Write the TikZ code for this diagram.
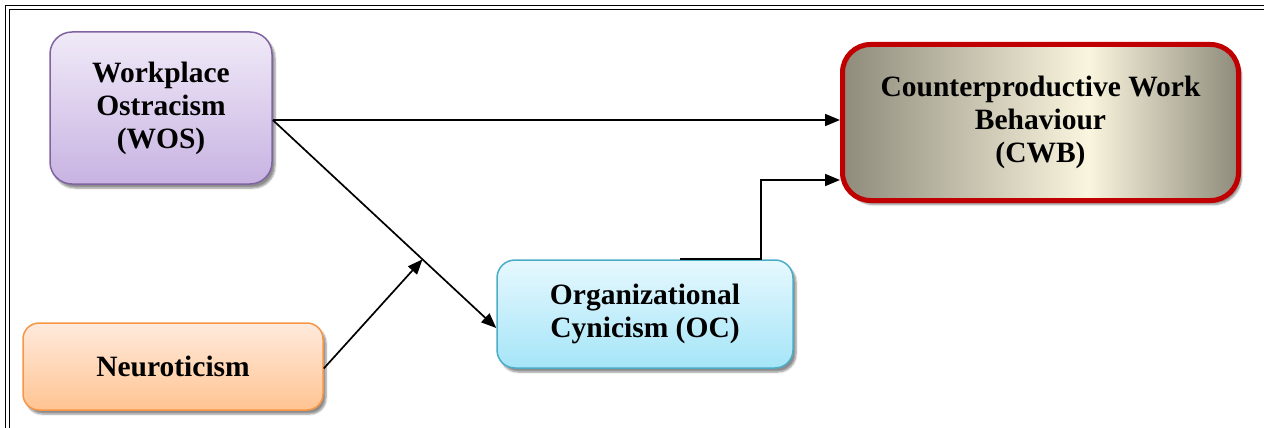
\documentclass[tikz,border=0pt]{standalone}
\usepackage{fontspec}
\setmainfont{Liberation Serif}
\usetikzlibrary{arrows.meta,calc,shadows.blur}
\definecolor{wosTop}{HTML}{F0EAF8}
\definecolor{wosBot}{HTML}{C8B3E2}
\definecolor{wosLine}{HTML}{8064A2}
\definecolor{neuTop}{HTML}{FFEADC}
\definecolor{neuBot}{HTML}{FFC492}
\definecolor{neuLine}{HTML}{F79646}
\definecolor{ocTop}{HTML}{E6F8FE}
\definecolor{ocBot}{HTML}{A5E5F8}
\definecolor{ocLine}{HTML}{4BACC6}
\definecolor{cwbLine}{HTML}{C00000}
\definecolor{cwbDark}{HTML}{8E8B7B}
\definecolor{cwbLight}{HTML}{FAF5DE}
\pgfdeclarehorizontalshading{cwbshade}{100bp}{color(0bp)=(cwbDark); color(25bp)=(cwbDark); color(56bp)=(cwbLight); color(75bp)=(cwbDark); color(100bp)=(cwbDark)}
\tikzset{
  box/.style={rounded corners=20pt, align=center, font=\fontsize{29.5}{33}\selectfont\bfseries, inner sep=0pt,
    blur shadow={shadow xshift=3pt, shadow yshift=-4pt, shadow blur steps=6, shadow opacity=45}},
  conn/.style={line width=1.7pt, -{Triangle[length=15pt,width=12pt]}},
  frame/.style={line width=0.9pt}
}
\begin{document}
\begin{tikzpicture}[x=1pt,y=-1pt]
\useasboundingbox (0,0) rectangle (1264,428);
\draw[frame] (5,428) -- (5,5) -- (1264,5);
\draw[frame] (9,428) -- (9,9) -- (1264,9);

\node[box, draw=wosLine, line width=1.5pt, top color=wosTop, bottom color=wosBot,
  minimum width=222pt, minimum height=152pt, rounded corners=22pt] (wos) at (161,108)
  {Workplace\\Ostracism\\(WOS)};
\node[box, draw=neuLine, line width=1.5pt, top color=neuTop, bottom color=neuBot,
  minimum width=300pt, minimum height=87pt, rounded corners=16pt] (neu) at (173,366.5)
  {Neuroticism};
\node[box, draw=ocLine, line width=1.5pt, top color=ocTop, bottom color=ocBot,
  minimum width=296pt, minimum height=108pt, rounded corners=18pt] (oc) at (645,314)
  {Organizational\\Cynicism (OC)};
\node[box, draw=cwbLine, line width=5pt, shading=cwbshade,
  minimum width=396pt, minimum height=156pt, rounded corners=28pt] (cwb) at (1040.5,122.5)
  {Counterproductive Work\\Behaviour\\(CWB)};

\coordinate (ws) at ($(wos.east)+(0,12)$);
\coordinate (ow) at ($(oc.west)+(0,14)$);
\coordinate (mid) at ($(ws)!0.67!(ow)$);
\draw[conn] (ws) -- (ws -| cwb.west);
\draw[conn] (ws) -- (ow);
\draw[conn] ($(neu.east)+(0,2)$) -- (mid);
\draw[conn] ($(oc.north)+(35,0)$) -- ++(81,0) |- ($(cwb.west)+(0,57.5)$);
\end{tikzpicture}
\end{document}
